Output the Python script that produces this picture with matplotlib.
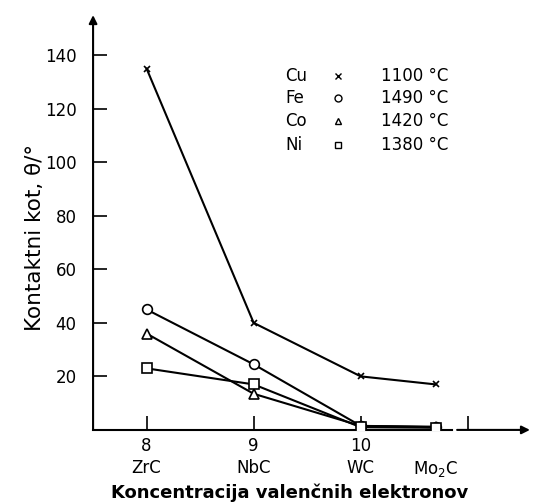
import matplotlib.pyplot as plt

# x positions (valence electron concentration) and compounds
x_vals = [8, 9, 10, 10.7]
compounds = ["ZrC", "NbC", "WC", "Mo$_2$C"]

cu = [135, 40, 20, 17]
fe = [45, 24.5, 1.5, 1.2]
co = [36, 13.5, 1.5, 1.0]
ni = [23, 17, 1.0, 0.8]

metals = ["Cu", "Fe", "Co", "Ni"]
temps = ["1100 °C", "1490 °C", "1420 °C", "1380 °C"]
markers = ["x", "o", "^", "s"]
series = [cu, fe, co, ni]

fig = plt.figure(figsize=(5.38, 5.04), dpi=100)
ax = fig.add_axes([0.173, 0.147, 0.812, 0.823])

for vals, m in zip(series, markers):
    ms = 5 if m == "x" else 7
    ax.plot(x_vals, vals, color="black", linewidth=1.5, marker=m,
            markersize=ms, markerfacecolor="white", markeredgecolor="black",
            markeredgewidth=1.2, zorder=3)

ax.set_xlim(7.5, 11.58)
ax.set_ylim(0, 155)

for s in ax.spines.values():
    s.set_visible(False)

# axes drawn as arrows, x-axis with a small break after Mo2C
ax.annotate("", xy=(7.5, 155), xytext=(7.5, 0),
            arrowprops=dict(arrowstyle="-|>", color="black", lw=1.5,
                            mutation_scale=12, shrinkA=0, shrinkB=0),
            annotation_clip=False)
ax.plot([7.5, 10.85], [0, 0], color="black", lw=1.5, clip_on=False)
ax.annotate("", xy=(11.58, 0), xytext=(10.9, 0),
            arrowprops=dict(arrowstyle="-|>", color="black", lw=1.5,
                            mutation_scale=12, shrinkA=0, shrinkB=0),
            annotation_clip=False)

ax.set_yticks([20, 40, 60, 80, 100, 120, 140])
ax.set_xticks([8, 9, 10, 11])
ax.set_xticklabels([f"{int(x)}\n{c}" for x, c in zip(x_vals[:3], compounds[:3])] + [""],
                   linespacing=1.3)
ax.set_xticks([10.7], minor=True)
ax.set_xticklabels(["\n" + compounds[3]], minor=True, linespacing=1.3)
ax.tick_params(axis="both", direction="in", length=10, width=1.2,
               labelsize=12)
ax.tick_params(axis="x", which="both", pad=5, labelsize=12)
ax.tick_params(axis="x", which="minor", length=0)
ax.tick_params(axis="y", pad=12)

ax.set_xlabel("Koncentracija valenčnih elektronov", fontsize=13,
              fontweight="bold")
ax.xaxis.set_label_coords(0.45, -0.13)
ax.set_ylabel("Kontaktni kot, θ/°", fontsize=15.5)
ax.yaxis.set_label_coords(-0.11, 0.465)

# legend as a small table
row_y = [0.854, 0.8, 0.744, 0.688]
for metal, temp, m, yy in zip(metals, temps, markers, row_y):
    ax.text(0.44, yy, metal, transform=ax.transAxes, fontsize=12,
            va="center", ha="left")
    ax.plot([0.56], [yy], transform=ax.transAxes, marker=m, color="black",
            markersize=4 if m == "x" else 5, markerfacecolor="white",
            markeredgewidth=1)
    ax.text(0.66, yy, temp, transform=ax.transAxes, fontsize=12,
            va="center", ha="left")

plt.savefig("out.png", dpi=100)
plt.close()
